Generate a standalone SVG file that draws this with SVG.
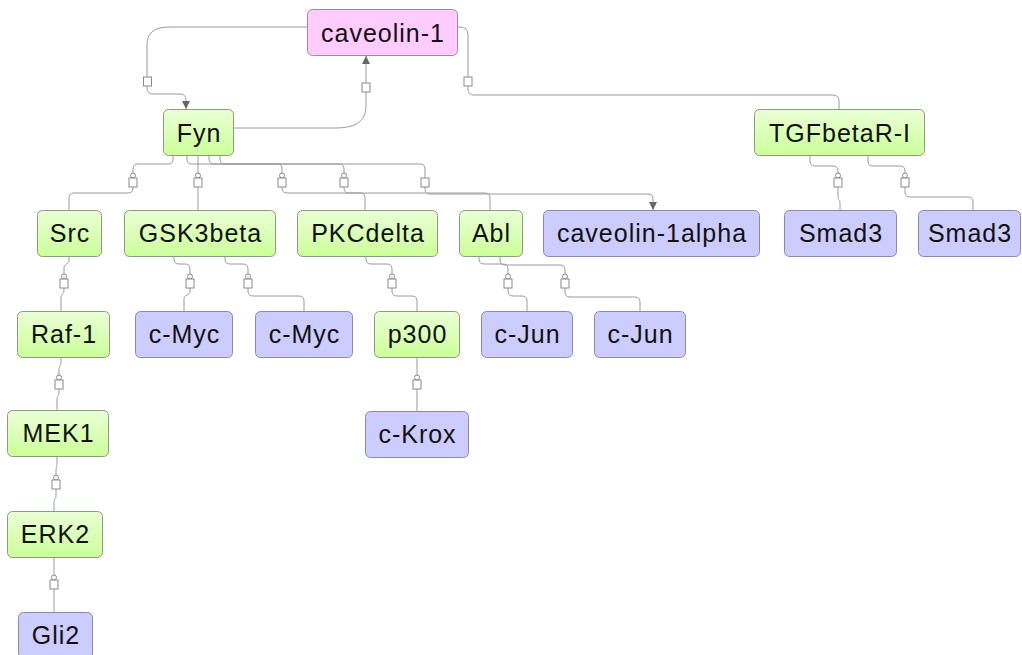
<svg xmlns="http://www.w3.org/2000/svg" width="1022" height="655" viewBox="0 0 1022 655">
  <defs>
    <linearGradient id="gGreen" x1="0" y1="0" x2="0" y2="1">
      <stop offset="0" stop-color="#eaffd6"/>
      <stop offset="1" stop-color="#ccff99"/>
    </linearGradient>
    <marker id="arrow" markerUnits="userSpaceOnUse" markerWidth="8" markerHeight="8" refX="8" refY="4" orient="auto">
      <path d="M0,0 L8,4 L0,8 z" fill="#666"/>
    </marker>
    <!-- edge glyphs: open ring over a small box, and the plain box -->
    <g id="pin">
      <circle cx="0" cy="-2.5" r="2.5" fill="#fff" stroke="#888" stroke-width="1"/>
      <rect x="-4" y="0" width="8" height="9" fill="#fff" stroke="#888" stroke-width="1"/>
    </g>
    <rect id="box" x="-4" y="0" width="8" height="9" fill="#fff" stroke="#888" stroke-width="1"/>
  </defs>
  <style>
    .edge { fill: none; stroke: #9a9a9a; stroke-width: 1; }
    .arr { marker-end: url(#arrow); }
    .green { fill: url(#gGreen); stroke: #8c9a82; stroke-width: 1; }
    .blue { fill: #ccccff; stroke: #8a8aa8; stroke-width: 1; }
    .pink { fill: #ffccff; stroke: #a08aa0; stroke-width: 1; }
    text { font-family: "Liberation Sans", Arial, sans-serif; font-size: 25px; fill: #111; text-anchor: middle; letter-spacing: 1px; }
  </style>

  <rect width="1022" height="655" fill="#ffffff"/>

  <g id="connectors">
    <!-- caveolin-1 -> Fyn -->
    <path class="edge arr" d="M307 27 H170 C155 27 147 32 147 45 V88 Q147 94 153 94 H180 Q186 94 186 100 V109"/>
    <use href="#box" x="147.5" y="77"/>
    <!-- Fyn -> caveolin-1 -->
    <path class="edge arr" d="M233 128 H335 C358 128 366 120 366 105 V56"/>
    <use href="#box" x="366" y="83"/>
    <!-- caveolin-1 -> TGFbetaR-I -->
    <path class="edge" d="M457 27 H460 Q468 27 468 35 V89 Q468 95 474 95 H833 Q839 95 839 101 V109"/>
    <use href="#box" x="468" y="77"/>

    <!-- Fyn -> Src / GSK3beta / PKCdelta / Abl / caveolin-1alpha -->
    <path class="edge" d="M173 155 V159 Q173 164 168 164 H138 Q133 164 133 169 V188 Q133 193 128 193 H74 Q69 193 69 198 V210"/>
    <path class="edge" d="M198 155 V210"/>
    <path class="edge" d="M187 155 V159 Q187 164 192 164 H277 Q282 164 282 169 V188 Q282 193 287 193 H360 Q365 193 365 198 V210"/>
    <path class="edge" d="M209 155 V159 Q209 164 214 164 H339 Q344 164 344 169 V188 Q344 193 349 193 H485 Q490 193 490 198 V210"/>
    <path class="edge arr" d="M220 155 V159 Q220 164 225 164 H420 Q425 164 425 169 V189 Q425 194 430 194 H648 Q653 194 653 199 V210"/>
    <use href="#pin" x="133" y="178"/>
    <use href="#pin" x="198" y="178"/>
    <use href="#pin" x="282" y="178"/>
    <use href="#pin" x="344" y="178"/>
    <use href="#box" x="425" y="178"/>

    <!-- TGFbetaR-I -> Smad3 -->
    <path class="edge" d="M810 155 V161 Q810 166 815 166 H833 Q838 166 838 171 V196 C838 201 840 199 840 204 V210"/>
    <path class="edge" d="M868 155 V161 Q868 166 873 166 H900 Q905 166 905 171 V192 Q905 197 910 197 H968 Q973 197 973 202 V210"/>
    <use href="#pin" x="838" y="178"/>
    <use href="#pin" x="905" y="178"/>

    <!-- second level -->
    <path class="edge" d="M69 257 V260 C69 265 64 263 64 268 V290 C64 295 61 293 61 298 V311"/>
    <path class="edge" d="M174 257 V259 Q174 264 179 264 H185 Q190 264 190 269 V291 C190 296 184 294 184 299 V311"/>
    <path class="edge" d="M225 257 V259 Q225 264 230 264 H243 Q248 264 248 269 V291 Q248 296 253 296 H299 Q304 296 304 301 V311"/>
    <path class="edge" d="M366 257 V259 Q366 264 371 264 H387 Q392 264 392 269 V291 Q392 296 397 296 H412 Q417 296 417 301 V311"/>
    <path class="edge" d="M479 257 V259 Q479 264 484 264 H503 Q508 264 508 269 V291 Q508 296 513 296 H522 Q527 296 527 301 V311"/>
    <path class="edge" d="M500 257 V260 Q500 265 505 265 H560 Q565 265 565 270 V292 Q565 297 570 297 H635 Q640 297 640 302 V311"/>
    <use href="#pin" x="64" y="279"/>
    <use href="#pin" x="190" y="279"/>
    <use href="#pin" x="248" y="279"/>
    <use href="#pin" x="392" y="279"/>
    <use href="#pin" x="508" y="279"/>
    <use href="#pin" x="565" y="279"/>

    <!-- lower chains -->
    <path class="edge" d="M61 358 V362 C61 367 59 365 59 370 V392 C59 397 57 395 57 400 V410"/>
    <path class="edge" d="M417 357 V411"/>
    <path class="edge" d="M57 457 V463 C57 468 56 466 56 471 V495 C56 500 54 498 54 503 V511"/>
    <path class="edge" d="M54 558 V612"/>
    <use href="#pin" x="59" y="380"/>
    <use href="#pin" x="417" y="380"/>
    <use href="#pin" x="56" y="480"/>
    <use href="#pin" x="54" y="580"/>
  </g>

  <g id="n-caveolin-1"><rect class="pink" x="307.5" y="9.5" width="150" height="46" rx="5"/><text x="383" y="41.5">caveolin-1</text></g>
  <g id="n-fyn"><rect class="green" x="163.5" y="109.5" width="70" height="46" rx="5"/><text x="199" y="141.5">Fyn</text></g>
  <g id="n-tgfbetar-i"><rect class="green" x="754.5" y="109.5" width="170" height="46" rx="5"/><text x="840" y="141.5">TGFbetaR-I</text></g>

  <g id="n-src"><rect class="green" x="37.5" y="210.5" width="64" height="46" rx="5"/><text x="70" y="241.5">Src</text></g>
  <g id="n-gsk3beta"><rect class="green" x="124.5" y="210.5" width="151" height="46" rx="5"/><text x="200.5" y="241.5">GSK3beta</text></g>
  <g id="n-pkcdelta"><rect class="green" x="297.5" y="210.5" width="140" height="46" rx="5"/><text x="368" y="241.5">PKCdelta</text></g>
  <g id="n-abl"><rect class="green" x="459.5" y="210.5" width="63" height="46" rx="5"/><text x="491.5" y="241.5">Abl</text></g>
  <g id="n-caveolin-1alpha"><rect class="blue" x="543.5" y="210.5" width="216" height="46" rx="5"/><text x="652" y="241.5">caveolin-1alpha</text></g>
  <g id="n-smad3-a"><rect class="blue" x="784.5" y="210.5" width="112" height="46" rx="5"/><text x="841" y="241.5">Smad3</text></g>
  <g id="n-smad3-b"><rect class="blue" x="918.5" y="210.5" width="102" height="46" rx="5"/><text x="970" y="241.5">Smad3</text></g>

  <g id="n-raf-1"><rect class="green" x="17.5" y="311.5" width="92" height="46" rx="5"/><text x="64" y="342.5">Raf-1</text></g>
  <g id="n-c-myc-a"><rect class="blue" x="135.5" y="311.5" width="97" height="46" rx="5"/><text x="184.5" y="342.5">c-Myc</text></g>
  <g id="n-c-myc-b"><rect class="blue" x="255.5" y="311.5" width="97" height="46" rx="5"/><text x="304.5" y="342.5">c-Myc</text></g>
  <g id="n-p300"><rect class="green" x="374.5" y="311.5" width="85" height="46" rx="5"/><text x="417.5" y="342.5">p300</text></g>
  <g id="n-c-jun-a"><rect class="blue" x="481.5" y="311.5" width="91" height="46" rx="5"/><text x="527.5" y="342.5">c-Jun</text></g>
  <g id="n-c-jun-b"><rect class="blue" x="594.5" y="311.5" width="91" height="46" rx="5"/><text x="640.5" y="342.5">c-Jun</text></g>

  <g id="n-mek1"><rect class="green" x="7.5" y="410.5" width="101" height="46" rx="5"/><text x="58.5" y="441.5">MEK1</text></g>
  <g id="n-c-krox"><rect class="blue" x="365.5" y="411.5" width="103" height="46" rx="5"/><text x="417.5" y="442.5">c-Krox</text></g>
  <g id="n-erk2"><rect class="green" x="7.5" y="511.5" width="95" height="46" rx="5"/><text x="55.5" y="542.5">ERK2</text></g>
  <g id="n-gli2"><rect class="blue" x="18.5" y="612.5" width="74" height="46" rx="5"/><text x="56" y="643.5">Gli2</text></g>
</svg>
